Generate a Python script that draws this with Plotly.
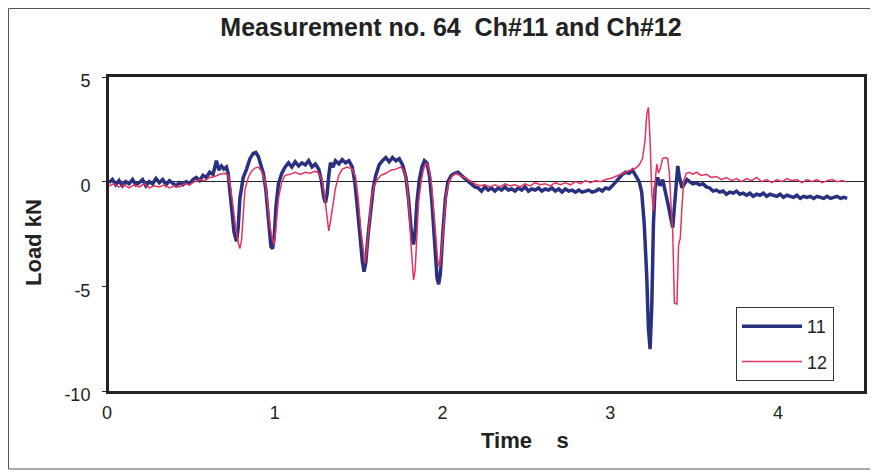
import plotly.graph_objects as go

# Channel 11 (blue) - time [s], load [kN]
t11 = [0.00, 0.02, 0.04, 0.06, 0.08, 0.10, 0.12, 0.14, 0.16, 0.18, 0.20, 0.22, 0.24, 0.26, 0.28, 0.30,
       0.32, 0.34, 0.36, 0.38, 0.40, 0.42, 0.44, 0.46, 0.48, 0.50, 0.52, 0.54, 0.56, 0.58, 0.60, 0.62,
       0.64, 0.655, 0.67, 0.685, 0.70, 0.71, 0.72, 0.73, 0.745, 0.76, 0.77, 0.78, 0.79, 0.80, 0.82, 0.84,
       0.86, 0.875, 0.89, 0.905, 0.92, 0.935, 0.95, 0.965, 0.975, 0.985, 0.995, 1.01, 1.03, 1.05, 1.07,
       1.09, 1.11, 1.13, 1.15, 1.17, 1.19, 1.21, 1.23, 1.25, 1.265, 1.28, 1.29, 1.30, 1.31, 1.32, 1.335,
       1.35, 1.37, 1.39, 1.41, 1.43, 1.45, 1.465, 1.48, 1.495, 1.51, 1.52, 1.53, 1.545, 1.56, 1.575, 1.59,
       1.61, 1.63, 1.65, 1.67, 1.69, 1.71, 1.73, 1.75, 1.77, 1.785, 1.80, 1.815, 1.825, 1.835, 1.85, 1.865,
       1.88, 1.895, 1.91, 1.925, 1.94, 1.955, 1.965, 1.975, 1.99, 2.005, 2.02, 2.04, 2.06, 2.08, 2.10, 2.12,
       2.14, 2.16, 2.18, 2.20, 2.22, 2.24, 2.26, 2.28, 2.30, 2.32, 2.34, 2.36, 2.38, 2.40, 2.42, 2.44, 2.46,
       2.48, 2.50, 2.52, 2.54, 2.56, 2.58, 2.60, 2.62, 2.64, 2.66, 2.68, 2.70, 2.72, 2.74, 2.76, 2.78, 2.80,
       2.82, 2.84, 2.86, 2.88, 2.90, 2.92, 2.94, 2.96, 2.98, 3.00, 3.02, 3.04, 3.06, 3.08, 3.10, 3.12, 3.14,
       3.16, 3.175, 3.19, 3.205, 3.215, 3.225, 3.235, 3.245, 3.255, 3.27, 3.285, 3.30, 3.315, 3.33, 3.345,
       3.36, 3.37, 3.38, 3.39, 3.40, 3.415, 3.43, 3.445, 3.46, 3.48, 3.50, 3.52, 3.54, 3.56, 3.58, 3.60,
       3.62, 3.64, 3.66, 3.68, 3.70, 3.72, 3.74, 3.76, 3.78, 3.80, 3.82, 3.84, 3.86, 3.88, 3.90, 3.92, 3.94,
       3.96, 3.98, 4.00, 4.02, 4.04, 4.06, 4.08, 4.10, 4.12, 4.14, 4.16, 4.18, 4.20, 4.22, 4.24, 4.26, 4.28,
       4.30, 4.32, 4.34, 4.36, 4.38, 4.40]
v11 = [-0.05, 0.10, -0.15, 0.05, -0.20, 0.00, -0.10, 0.10, -0.15, -0.05, 0.10, -0.20, 0.00, -0.10, 0.15, -0.05,
       0.10, -0.15, 0.05, -0.10, -0.20, -0.05, -0.15, 0.00, -0.10, 0.10, 0.20, 0.05, 0.30, 0.20, 0.45, 0.35,
       1.00, 0.55, 0.75, 0.60, 0.70, 0.40, -0.50, -1.50, -2.40, -2.85, -2.20, -0.80, -0.20, 0.20, 0.60, 1.10,
       1.35, 1.40, 1.20, 0.80, 0.40, -0.40, -1.80, -3.10, -3.20, -2.60, -1.20, -0.10, 0.40, 0.70, 0.90,
       0.70, 0.95, 0.75, 0.90, 0.80, 1.00, 0.70, 0.85, 0.60, 0.10, -0.75, -1.00, -0.60, 0.30, 0.90, 0.70,
       1.00, 0.85, 1.05, 0.90, 1.00, 0.70, 0.00, -1.20, -2.60, -3.80, -4.30, -3.90, -2.50, -1.20, -0.30, 0.30,
       0.80, 1.00, 1.15, 0.95, 1.15, 1.00, 1.10, 0.80, 0.20, -0.80, -2.20, -3.00, -2.40, -1.00, 0.10, 0.70,
       1.00, 0.90, 0.30, -1.00, -3.00, -4.60, -4.90, -4.40, -2.40, -0.80, 0.00, 0.30, 0.40, 0.45, 0.30, 0.15,
       0.00, -0.10, -0.25, -0.30, -0.45, -0.25, -0.40, -0.30, -0.45, -0.30, -0.40, -0.25, -0.40, -0.35, -0.45, -0.30, -0.40,
       -0.25, -0.45, -0.35, -0.40, -0.30, -0.45, -0.35, -0.40, -0.30, -0.45, -0.35, -0.50, -0.35, -0.45, -0.40, -0.50, -0.40,
       -0.50, -0.45, -0.40, -0.50, -0.45, -0.35, -0.45, -0.30, -0.35, -0.20, 0.00, 0.20, 0.35, 0.45, 0.40, 0.55, 0.30,
       0.00, -0.50, -2.00, -4.50, -7.00, -8.00, -6.00, -2.00, -0.30, 0.20, -0.20, 0.10, -0.40, -1.00, -1.60,
       -2.20, -1.20, 0.00, 0.75, 0.20, -0.30, -0.10, 0.10, 0.00, -0.10, -0.05, -0.15, -0.10, -0.25, -0.30, -0.45,
       -0.40, -0.50, -0.45, -0.60, -0.50, -0.55, -0.45, -0.60, -0.55, -0.65, -0.55, -0.70, -0.60, -0.65, -0.55, -0.70, -0.60,
       -0.65, -0.70, -0.60, -0.75, -0.65, -0.70, -0.75, -0.65, -0.80, -0.70, -0.75, -0.70, -0.80, -0.70, -0.75, -0.80, -0.70,
       -0.80, -0.75, -0.70, -0.80, -0.75, -0.80]

# Channel 12 (red)
t12 = [0.00, 0.03, 0.06, 0.09, 0.12, 0.15, 0.18, 0.21, 0.24, 0.27, 0.30, 0.33, 0.36, 0.39, 0.42, 0.45,
       0.48, 0.51, 0.54, 0.57, 0.60, 0.63, 0.66, 0.69, 0.71, 0.725, 0.74, 0.755, 0.77, 0.78, 0.79, 0.80,
       0.81, 0.83, 0.85, 0.87, 0.89, 0.91, 0.93, 0.945, 0.96, 0.975, 0.985, 0.995, 1.01, 1.03, 1.05, 1.08,
       1.11, 1.14, 1.17, 1.20, 1.23, 1.25, 1.27, 1.285, 1.30, 1.31, 1.32, 1.335, 1.35, 1.37, 1.39, 1.42,
       1.45, 1.47, 1.485, 1.50, 1.515, 1.525, 1.535, 1.55, 1.565, 1.58, 1.60, 1.62, 1.65, 1.68, 1.71, 1.74,
       1.76, 1.775, 1.79, 1.80, 1.81, 1.815, 1.825, 1.835, 1.845, 1.86, 1.875, 1.89, 1.905, 1.92, 1.935,
       1.95, 1.96, 1.97, 1.98, 1.995, 2.01, 2.03, 2.05, 2.07, 2.09, 2.12, 2.15, 2.18, 2.21, 2.24, 2.27, 2.30,
       2.33, 2.36, 2.39, 2.42, 2.45, 2.48, 2.51, 2.54, 2.57, 2.60, 2.63, 2.66, 2.69, 2.72, 2.75, 2.78, 2.81,
       2.84, 2.87, 2.90, 2.93, 2.96, 2.99, 3.02, 3.05, 3.08, 3.11, 3.14, 3.16, 3.18, 3.195, 3.205, 3.215,
       3.225, 3.235, 3.245, 3.255, 3.265, 3.275, 3.285, 3.30, 3.315, 3.33, 3.34, 3.35, 3.36, 3.37, 3.385,
       3.395, 3.405, 3.415, 3.425, 3.44, 3.46, 3.48, 3.50, 3.53, 3.56, 3.59, 3.62, 3.65, 3.68, 3.71, 3.74,
       3.77, 3.80, 3.83, 3.86, 3.89, 3.92, 3.95, 3.98, 4.01, 4.04, 4.07, 4.10, 4.13, 4.16, 4.19, 4.22, 4.25,
       4.28, 4.31, 4.34, 4.37, 4.39]
v12 = [-0.20, -0.10, -0.25, -0.15, -0.30, -0.15, -0.25, -0.10, -0.30, -0.20, -0.25, -0.15, -0.30, -0.20, -0.25, -0.10,
       -0.15, 0.00, 0.10, 0.05, 0.20, 0.25, 0.35, 0.40, 0.30, -0.30, -1.20, -2.20, -2.90, -3.20, -2.80, -1.50,
       -0.40, 0.20, 0.50, 0.65, 0.70, 0.50, 0.00, -1.00, -2.20, -2.80, -3.00, -2.20, -0.80, 0.00, 0.30, 0.35,
       0.45, 0.35, 0.45, 0.40, 0.50, 0.40, 0.10, -0.70, -1.60, -2.35, -1.90, -1.20, -0.30, 0.30, 0.60, 0.70,
       0.60, 0.20, -0.80, -2.20, -3.40, -3.90, -3.40, -2.00, -0.80, -0.20, 0.10, 0.30, 0.40, 0.55, 0.60, 0.70,
       0.50, 0.00, -1.50, -3.00, -4.30, -4.70, -4.20, -2.50, -1.00, 0.00, 0.60, 0.90, 0.70, 0.10, -1.20,
       -2.80, -3.80, -4.10, -3.50, -2.00, -0.60, 0.10, 0.30, 0.40, 0.30, 0.20, 0.05, -0.10, -0.20, -0.15, -0.25, -0.15,
       -0.25, -0.10, -0.20, -0.15, -0.25, -0.10, -0.20, -0.05, -0.15, -0.10, -0.20, -0.05, -0.15, -0.05, -0.15, 0.00, -0.10,
       0.05, -0.05, 0.05, 0.00, 0.10, 0.15, 0.25, 0.35, 0.45, 0.55, 0.65, 0.80, 1.10, 2.00, 3.20, 3.55,
       2.00, -0.50, -1.40, 0.00, 0.85, 0.40, 0.60, 1.10, 1.15, 1.10, 0.40, -1.20, -2.40, -5.80, -5.85,
       -3.00, -2.70, -1.20, 0.00, 0.40, 0.45, 0.35, 0.45, 0.30, 0.35, 0.20, 0.25, 0.10, 0.20, 0.05, 0.15,
       0.00, 0.15, 0.05, 0.20, 0.00, 0.10, -0.05, 0.10, 0.00, 0.15, 0.05, 0.10, -0.05, 0.10, 0.00, 0.10, -0.05,
       0.05, 0.10, 0.00, 0.05, 0.00]

x_ticks = [0, 1, 2, 3, 4]
y_ticks = [5, 0, -5, -10]

# the page body has an 8 px margin; reference pixel coords are converted below
OFF = 8
W, H = 870, 466
L, R, T, B = 109 - OFF, 864 - OFF, 77 - OFF, 391 - OFF
pw, ph = R - L, B - T


def px(x):
    return (x - OFF - L) / pw


def py(y):
    return (B - (y - OFF)) / ph


fig = go.Figure()
fig.add_trace(go.Scatter(x=t11, y=v11, mode="lines", name="11", legendgroup="a",
                         line=dict(color="#28307f", width=3.5)))
fig.add_trace(go.Scatter(x=t12, y=v12, mode="lines", name="12", legendgroup="b",
                         line=dict(color="#e5325f", width=1.5)))

frame = dict(color="#555", width=1)
fig.update_layout(
    width=W, height=H,
    margin=dict(l=L, r=W - R, t=T, b=H - B),
    paper_bgcolor="white", plot_bgcolor="white",
    font=dict(family="Liberation Sans, Arial, sans-serif", color="#222"),
    title=dict(text="<b>Measurement no. 64&nbsp;&nbsp;Ch#11 and Ch#12</b>",
               x=(451 - OFF) / W, xanchor="center", y=1 - (27 - OFF) / H, yanchor="middle",
               font=dict(size=25, color="#222")),
    showlegend=True,
    legend=dict(x=px(736), y=py(307), xanchor="left", yanchor="top",
                bgcolor="white", bordercolor="#333", borderwidth=1,
                font=dict(size=18, color="#222"), tracegroupgap=9,
                itemwidth=60),
    xaxis=dict(range=[0, 4.5], tickvals=x_ticks, ticktext=[str(v) for v in x_ticks],
               showgrid=False, zeroline=False, showline=True, mirror=True,
               linecolor="#222", linewidth=3, ticks="", tickfont=dict(size=18),
               ticklabelstandoff=3, ticklabelshift=-2),
    yaxis=dict(range=[-10, 5], tickvals=y_ticks, ticktext=[str(v) for v in y_ticks],
               showgrid=False, zeroline=True, zerolinecolor="#222", zerolinewidth=1,
               showline=True, mirror=True, linecolor="#222", linewidth=3,
               ticks="outside", ticklen=4, tickcolor="#222", tickfont=dict(size=18),
               ticklabelshift=4, ticklabelstandoff=8),
    shapes=[
        dict(type="line", xref="paper", yref="paper", x0=px(8.5), x1=px(8.5), y0=py(469), y1=py(8.5), line=frame),
        dict(type="line", xref="paper", yref="paper", x0=px(8.5), x1=px(878), y0=py(8.5), y1=py(8.5), line=frame),
        dict(type="line", xref="paper", yref="paper", x0=px(8.5), x1=px(870), y0=py(469), y1=py(469), line=frame),
    ],
    annotations=[
        dict(text="<b>Time&nbsp;&nbsp;&nbsp;&nbsp;s</b>", xref="paper", yref="paper", x=px(525), y=py(440),
             showarrow=False, font=dict(size=22, color="#222"), xanchor="center", yanchor="middle"),
        dict(text="<b>Load kN</b>", xref="paper", yref="paper", x=px(33), y=py(243),
             showarrow=False, textangle=-90, font=dict(size=22, color="#222"),
             xanchor="center", yanchor="middle"),
    ],
)

fig.write_html("out.html")
